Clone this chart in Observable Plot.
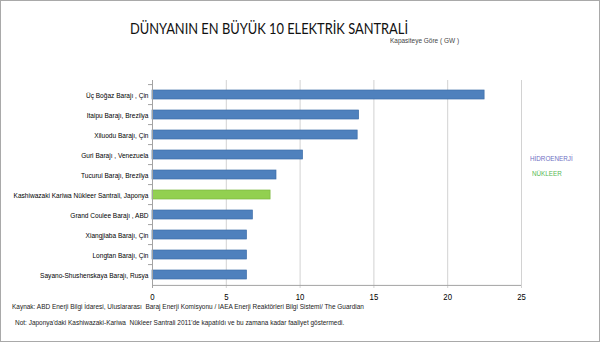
<!DOCTYPE html>
<html><head><meta charset="utf-8">
<script src="https://cdn.jsdelivr.net/npm/d3@7"></script>
<script src="https://cdn.jsdelivr.net/npm/@observablehq/plot@0.6"></script>
<style>
html,body{margin:0;padding:0;background:#fff}
#wrap{position:relative;width:600px;height:343px;overflow:hidden;background:#fff}
#border{position:absolute;left:0;top:0;width:598px;height:340px;border:1px solid #a9a9a9}
#chart{position:absolute;left:0;top:0}
.t{position:absolute;white-space:pre;line-height:1;font-family:"Liberation Sans",Arial,sans-serif;transform-origin:0 0}
</style></head><body>
<div id="wrap">
  <div id="chart"></div>
  <div id="border"></div>
  <div class="t" id="title" style="font-family:Lato,'Open Sans',sans-serif;font-size:16px;left:130px;top:19.5px;color:#111"></div>
  <div class="t sq" id="subtitle" style="font-size:7.9px;left:390px;top:37.2px;color:#444"></div>
  <div class="t sq" id="leg0" style="font-size:7.7px;left:530px;top:154.5px"></div>
  <div class="t sq" id="leg1" style="font-size:7.7px;left:532px;top:169.5px"></div>
  <div class="t sq" id="src" style="font-size:7.9px;left:11.5px;top:302.8px;color:#222"></div>
  <div class="t sq" id="note" style="font-size:7.9px;left:14.7px;top:319.4px;color:#222"></div>
</div>
<script>
const titleText = "DÜNYANIN EN BÜYÜK 10 ELEKTRİK SANTRALİ";
const subtitleText = "Kapasiteye Göre ( GW )";
const sourceText = "Kaynak: ABD Enerji Bilgi İdaresi, Uluslararası  Baraj Enerji Komisyonu / IAEA Enerji Reaktörleri Bilgi Sistemi/ The Guardian";
const noteText = "Not: Japonya'daki Kashiwazaki-Kariwa  Nükleer Santrali 2011'de kapatıldı ve bu zamana kadar faaliyet göstermedi.";

const plants = [
  "Üç Boğaz Barajı , Çin",
  "Itaipu Barajı, Brezilya",
  "Xiluodu Barajı, Çin",
  "Guri Barajı , Venezuela",
  "Tucurui Barajı, Brezilya",
  "Kashiwazaki Kariwa Nükleer Santrali, Japonya",
  "Grand Coulee Barajı , ABD",
  "Xiangjiaba Barajı, Çin",
  "Longtan Barajı, Çin",
  "Sayano-Shushenskaya Barajı, Rusya"
];
const capacityGW = [22.5, 14.0, 13.9, 10.2, 8.4, 8.0, 6.8, 6.4, 6.4, 6.4];
const plantTypes = ["HİDROENERJİ","HİDROENERJİ","HİDROENERJİ","HİDROENERJİ","HİDROENERJİ","NÜKLEER","HİDROENERJİ","HİDROENERJİ","HİDROENERJİ","HİDROENERJİ"];
const typeLabels = ["HİDROENERJİ", "NÜKLEER"];
const xTicks = [0, 5, 10, 15, 20, 25];

const barFill = ["#4f81bd", "#92d050"];
const barStroke = ["#3e6ea8", "#7db83f"];
const legendText = ["#6f6fc3", "#55b955"];

const data = plants.map((p, i) => ({plant: p, gw: capacityGW[i], type: plantTypes[i]}));

const W = 600, H = 343, mt = 80, mb = 55, ml = 152, mr = 79;
const step = (H - mt - mb) / plants.length;
const squeeze = 0.82;

const chart = Plot.plot({
  width: W, height: H,
  marginTop: mt, marginBottom: mb, marginLeft: ml, marginRight: mr,
  style: {fontFamily: '"Liberation Sans",Arial,sans-serif', fontSize: "8px", color: "#000", background: "transparent", overflow: "visible"},
  x: {domain: [0, 25], label: null},
  y: {domain: plants, paddingInner: 0.57, paddingOuter: 0.285, label: null},
  color: {domain: typeLabels, range: barFill},
  marks: [
    Plot.gridX(xTicks, {stroke: "#d2d2d2", strokeOpacity: 1, strokeWidth: 1}),
    Plot.barX(data, {x: "gw", y: "plant", fill: "type",
      stroke: d => barStroke[typeLabels.indexOf(d.type)], strokeWidth: 0.7}),
    Plot.ruleX([0], {stroke: "#a3a3a3"}),
    Plot.ruleY([plants[plants.length - 1]], {x1: 0, x2: 25, dy: step / 2, stroke: "#a3a3a3"}),
    Plot.ruleY(plants, {x1: -0.27, x2: 0, dy: -step / 2, stroke: "#a3a3a3"}),
    Plot.axisX(xTicks, {tickSize: 0, tickPadding: 5, fontSize: 9.5, label: null}),
    Plot.axisY({tickSize: 0, tickPadding: 4, label: null, fontSize: 8})
  ]
});
// horizontally condense the axis labels (reference text is narrow)
chart.querySelectorAll('g[aria-label$="tick label"] text').forEach(t => {
  const tr = t.getAttribute("transform") || "";
  t.setAttribute("transform", tr + ` scale(${squeeze},1)`);
});
document.getElementById("chart").append(chart);

document.getElementById("title").textContent = titleText;
document.getElementById("subtitle").textContent = subtitleText;
document.getElementById("src").textContent = sourceText;
document.getElementById("note").textContent = noteText;
const l0 = document.getElementById("leg0"), l1 = document.getElementById("leg1");
l0.textContent = typeLabels[0]; l0.style.color = legendText[0];
l1.textContent = typeLabels[1]; l1.style.color = legendText[1];
document.querySelectorAll(".sq").forEach(el => el.style.transform = `scaleX(${squeeze})`);

// fit title width to reference (278px)
const tEl = document.getElementById("title");
const tw = tEl.getBoundingClientRect().width;
tEl.style.transform = `scaleX(${278 / tw})`;
</script>
</body></html>
